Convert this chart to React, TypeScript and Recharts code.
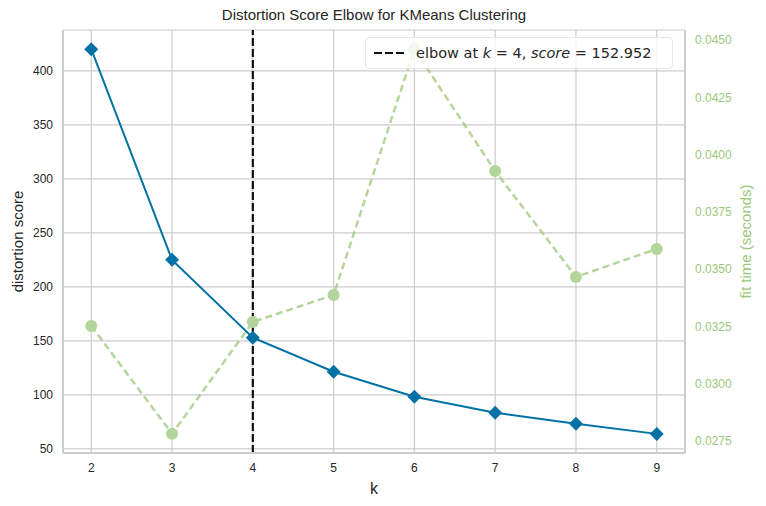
import { ComposedChart, Line, XAxis, YAxis, CartesianGrid, ReferenceLine } from 'recharts';

const ks = [2, 3, 4, 5, 6, 7, 8, 9];
const distortion = [420.0, 225.0, 152.952, 121.4, 98.2, 83.4, 73.2, 63.9];
const fitTime = [0.03252, 0.02781, 0.03269, 0.03387, 0.0446, 0.03928, 0.03466, 0.03588];
const scoreTicks = [50, 100, 150, 200, 250, 300, 350, 400];
const timeTicks = [0.0275, 0.03, 0.0325, 0.035, 0.0375, 0.04, 0.0425, 0.045];
const elbowK = 4;
const elbowScore = 152.952;

const data = ks.map((k, i) => ({ k, score: distortion[i], time: fitTime[i] }));

const BLUE = '#0272a6';
const GREEN = '#9cc77b';
const GRID = '#cccccc';
const FONT = '"Liberation Sans", Arial, sans-serif';

const Diamond = (props: any) => {
  const { cx, cy, index } = props;
  if (cx == null || cy == null) return null;
  const r = 7;
  return (
    <path
      key={`d-${index}`}
      d={`M${cx},${cy - r}L${cx + r},${cy}L${cx},${cy + r}L${cx - r},${cy}Z`}
      fill={BLUE}
    />
  );
};

export default function App() {
  return (
    <div style={{ position: 'absolute', left: 0, top: 0, width: 766, height: 506, background: '#fff', fontFamily: FONT }}>
      <div style={{ position: 'absolute', left: 63, width: 622, top: 6, textAlign: 'center', fontSize: 15, color: '#262626' }}>
        Distortion Score Elbow for KMeans Clustering
      </div>
      <ComposedChart width={766} height={506} data={data} margin={{ top: 30, right: 0, bottom: 0, left: 0 }}>
        <CartesianGrid yAxisId="left" stroke={GRID} strokeWidth={1.2} />
        <XAxis
          xAxisId="top"
          orientation="top"
          dataKey="k"
          type="number"
          domain={[1.65, 9.35]}
          height={0}
          tick={false}
          tickLine={false}
          axisLine={{ stroke: GRID, strokeWidth: 2 }}
        />
        <XAxis
          dataKey="k"
          type="number"
          domain={[1.65, 9.35]}
          ticks={ks}
          height={53}
          tickLine={false}
          tickMargin={4}
          axisLine={{ stroke: GRID, strokeWidth: 2 }}
          tick={{ fontSize: 12, fill: '#262626', fontFamily: FONT }}
          label={{ value: 'k', position: 'insideBottom', offset: 12, fontSize: 16, fill: '#262626', fontFamily: FONT }}
        />
        <YAxis
          yAxisId="left"
          type="number"
          domain={[46.2, 437.8]}
          ticks={scoreTicks}
          width={63}
          tickLine={false}
          tickMargin={4}
          axisLine={{ stroke: GRID, strokeWidth: 2 }}
          tick={{ fontSize: 12, fill: '#262626', fontFamily: FONT }}
          label={{ value: 'distortion score', angle: -90, position: 'insideLeft', offset: 18, fontSize: 15, fill: '#262626', fontFamily: FONT, style: { textAnchor: 'middle' } }}
        />
        <YAxis
          yAxisId="right"
          orientation="right"
          type="number"
          domain={[0.02697, 0.04544]}
          ticks={timeTicks}
          width={81}
          tickLine={false}
          tickMargin={4}
          axisLine={{ stroke: GRID, strokeWidth: 2 }}
          tickFormatter={(v: number) => v.toFixed(4)}
          tick={{ fontSize: 12, fill: GREEN, fontFamily: FONT }}
          label={{ value: 'fit time (seconds)', angle: -90, position: 'insideRight', offset: 20, fontSize: 15, fill: GREEN, fontFamily: FONT, style: { textAnchor: 'middle' } }}
        />
        <Line
          yAxisId="right"
          dataKey="time"
          stroke={GREEN}
          strokeOpacity={0.75}
          strokeWidth={2.5}
          strokeDasharray="7 4"
          dot={{ r: 6, fill: '#b3d59b', stroke: 'none', fillOpacity: 1 }}
          activeDot={false}
          isAnimationActive={false}
        />
        <Line
          yAxisId="left"
          dataKey="score"
          stroke={BLUE}
          strokeWidth={2}
          dot={<Diamond />}
          activeDot={false}
          isAnimationActive={false}
        />
        <ReferenceLine yAxisId="left" x={elbowK} stroke="#111" strokeWidth={2.2} strokeDasharray="8 3" />
      </ComposedChart>
      <div
        style={{
          position: 'absolute',
          left: 365,
          top: 37,
          width: 308,
          height: 32,
          boxSizing: 'border-box',
          border: '1px solid #e6e6e6',
          borderRadius: 4,
          background: 'rgba(255,255,255,0.8)',
          display: 'flex',
          alignItems: 'center',
          fontFamily: '"DejaVu Sans", sans-serif',
          fontSize: 14.5,
          color: '#262626',
        }}
      >
        <svg width={44} height={10} style={{ marginLeft: 6 }}>
          <line x1={2} y1={5} x2={32} y2={5} stroke="#111" strokeWidth={2.2} strokeDasharray="8 3" />
        </svg>
        <span style={{ whiteSpace: 'nowrap' }}>
          elbow at <i>k</i> = {elbowK}, <i>score</i> = {elbowScore}
        </span>
      </div>
    </div>
  );
}
